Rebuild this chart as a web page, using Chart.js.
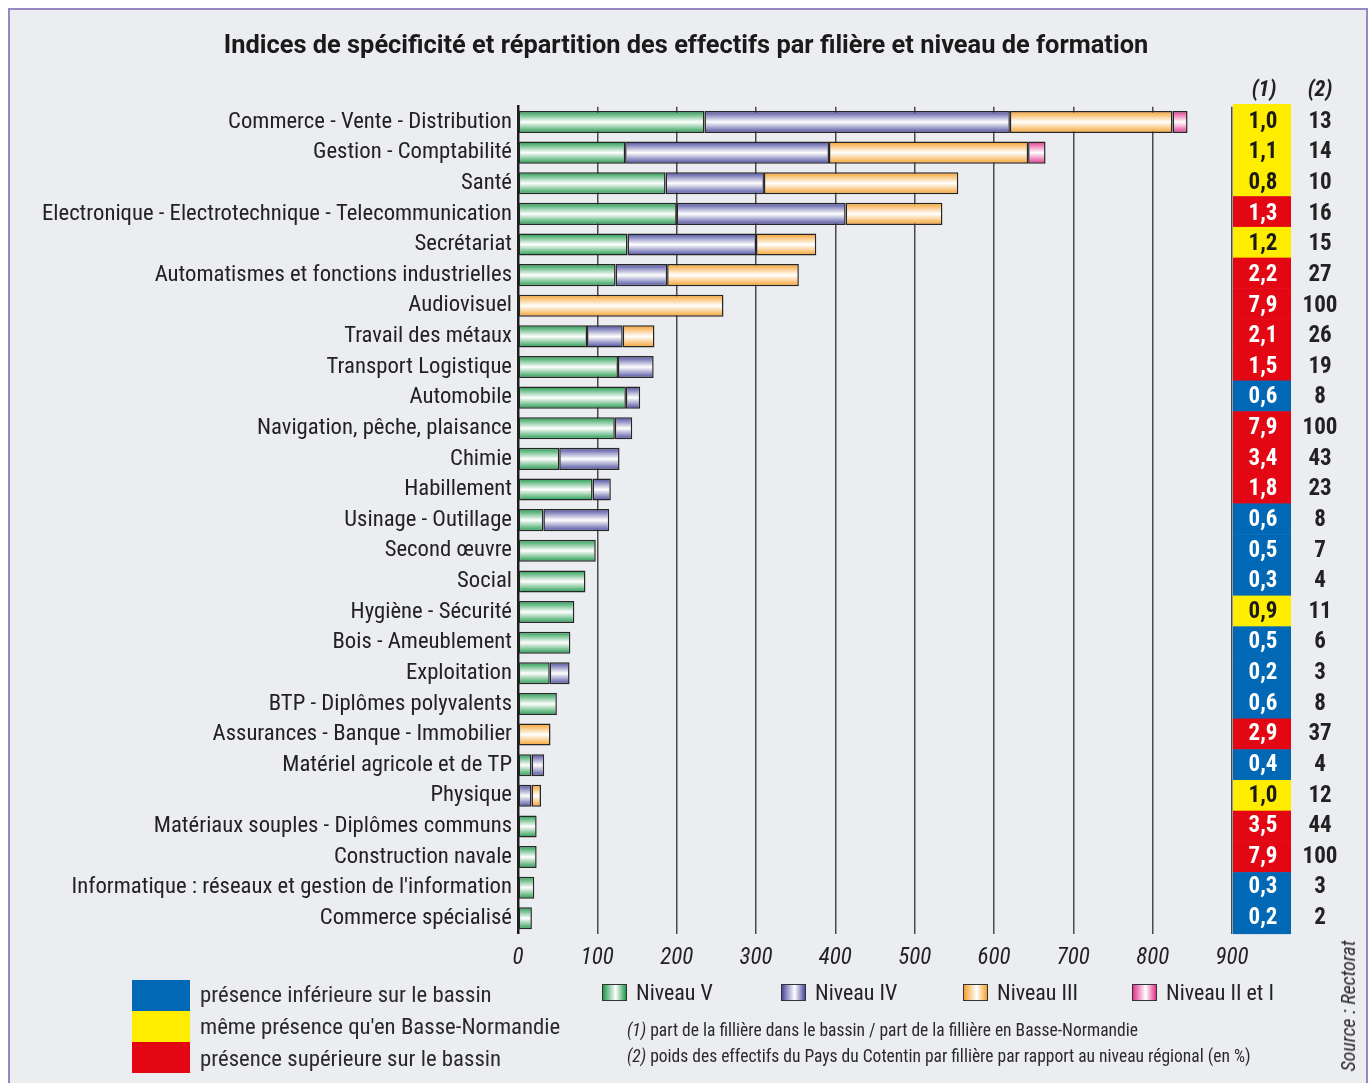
<!DOCTYPE html>
<html lang="fr">
<head>
<meta charset="utf-8">
<title>Indices de spécificité et répartition des effectifs</title>
<script src="https://cdn.jsdelivr.net/npm/chart.js@4.4.1/dist/chart.umd.min.js"></script>
<style>
  html, body { margin: 0; padding: 0; background: #ffffff; overflow: hidden; }
  body { width: 1372px; height: 1083px; position: relative; font-family: 'Roboto Condensed', 'Roboto', sans-serif; color: #222; }
  #frame { position: absolute; left: 8px; top: 8px; width: 1356px; height: 1100px; border: 2px solid #9788c4; border-bottom: none; background: #ecedf0; }
  #chart { position: absolute; left: 0; top: 0; }
  .title { position: absolute; left: 0; width: 1372px; top: 29px; text-align: center; font-family: 'Roboto', sans-serif; font-weight: 700; font-size: 25.4px; color: #1a1a1a; }
  .lvl { position: absolute; top: 980px; font-size: 22px; line-height: 26px; white-space: nowrap; }
  .lvl i { display: inline-block; width: 23px; height: 15px; border: 1.5px solid #333; vertical-align: -1px; margin-right: 9px; }
  .pres { position: absolute; left: 132px; width: 58px; height: 31px; }
  .prestxt { position: absolute; left: 200px; font-size: 22.8px; line-height: 26px; white-space: nowrap; color: #2a2a2a; }
  .note { position: absolute; left: 627px; font-size: 17.5px; white-space: nowrap; color: #2a2a2a; }
  .source { position: absolute; left: 1348px; top: 1006px; transform: translate(-50%, -50%) rotate(-90deg); font-size: 20px; font-style: italic; white-space: nowrap; color: #2a2a2a; }
</style>
</head>
<body>
<div id="frame"></div>
<canvas id="chart" width="1372" height="1083"></canvas>

<div class="title">Indices de spécificité et répartition des effectifs par filière et niveau de formation</div>

<div class="pres" style="top:980px;background:#0068b4"></div>
<div class="pres" style="top:1011px;background:#ffed00"></div>
<div class="pres" style="top:1042px;background:#e30613"></div>
<div class="prestxt" style="top:982px">présence inférieure sur le bassin</div>
<div class="prestxt" style="top:1014px">même présence qu'en Basse-Normandie</div>
<div class="prestxt" style="top:1046px">présence supérieure sur le bassin</div>

<div class="lvl" style="left:602px"><i style="background:linear-gradient(90deg,#1f9a4b,#ffffff 55%,#1f9a4b)"></i>Niveau V</div>
<div class="lvl" style="left:781px"><i style="background:linear-gradient(90deg,#4a4a9e,#ffffff 55%,#4a4a9e)"></i>Niveau IV</div>
<div class="lvl" style="left:963px"><i style="background:linear-gradient(90deg,#f5a02a,#ffffff 55%,#f5a02a)"></i>Niveau III</div>
<div class="lvl" style="left:1132px"><i style="background:linear-gradient(90deg,#e2348c,#ffffff 55%,#e2348c)"></i>Niveau II et I</div>

<div class="note" style="top:1020px"><i>(1)</i> part de la fillière dans le bassin / part de la fillière en Basse-Normandie</div>
<div class="note" style="top:1046px"><i>(2)</i> poids des effectifs du Pays du Cotentin par fillière par rapport au niveau régional (en %)</div>

<div class="source">Source : Rectorat</div>

<script>
// Filières, de la plus fournie à la moins fournie
const categories = [
  'Commerce - Vente - Distribution',
  'Gestion - Comptabilité',
  'Santé',
  'Electronique - Electrotechnique - Telecommunication',
  'Secrétariat',
  'Automatismes et fonctions industrielles',
  'Audiovisuel',
  'Travail des métaux',
  'Transport Logistique',
  'Automobile',
  'Navigation, pêche, plaisance',
  'Chimie',
  'Habillement',
  'Usinage - Outillage',
  'Second œuvre',
  'Social',
  'Hygiène - Sécurité',
  'Bois - Ameublement',
  'Exploitation',
  'BTP - Diplômes polyvalents',
  'Assurances - Banque - Immobilier',
  'Matériel agricole et de TP',
  'Physique',
  'Matériaux souples - Diplômes communs',
  'Construction navale',
  "Informatique : réseaux et gestion de l'information",
  'Commerce spécialisé'
];

// Effectifs par niveau de formation (null = pas d'effectif)
const niveauV   = [235, 135, 186, 200, 138, 123, null, 87, 126, 136, 122, 52, 94, 32, 98, 85, 71, 66, 40, 49, null, 17, null, 23.5, 23.5, 20.5, 17.5];
const niveauIV  = [385, 257, 124, 213, 162, 65, null, 45, 45, 18, 22, 76, 23, 83, null, null, null, null, 25, null, null, 16, 17, null, null, null, null];
const niveauIII = [205, 251, 245, 122, 76, 166, 259, 40, null, null, null, null, null, null, null, null, null, null, null, null, 41, null, 12, null, null, null, null];
const niveauII  = [19, 22, null, null, null, null, null, null, null, null, null, null, null, null, null, null, null, null, null, null, null, null, null, null, null, null, null];

// (1) indice de spécificité et sa classe, (2) poids régional en %
const indice = [1.0, 1.1, 0.8, 1.3, 1.2, 2.2, 7.9, 2.1, 1.5, 0.6, 7.9, 3.4, 1.8, 0.6, 0.5, 0.3, 0.9, 0.5, 0.2, 0.6, 2.9, 0.4, 1.0, 3.5, 7.9, 0.3, 0.2];
const presence = ['meme', 'meme', 'meme', 'sup', 'meme', 'sup', 'sup', 'sup', 'sup', 'inf', 'sup', 'sup', 'sup', 'inf', 'inf', 'inf', 'meme', 'inf', 'inf', 'inf', 'sup', 'inf', 'meme', 'sup', 'sup', 'inf', 'inf'];
const poids = [13, 14, 10, 16, 15, 27, 100, 26, 19, 8, 100, 43, 23, 8, 7, 4, 11, 6, 3, 8, 37, 4, 12, 44, 100, 3, 2];

const xTicks = [0, 100, 200, 300, 400, 500, 600, 700, 800, 900];

const FONT = "'Roboto Condensed', 'Roboto', sans-serif";
const BAR_FRACTION = 0.72;
const presenceColors = { inf: '#0068b4', meme: '#ffed00', sup: '#e30613' };
const presenceText = { inf: '#ffffff', meme: '#1a1a1a', sup: '#ffffff' };

// Vertical shading of each bar: coloured edges, white core
function shaded(color) {
  return (ctx) => {
    if (ctx.type !== 'data') return color;
    const chart = ctx.chart;
    const ys = chart.scales.y;
    if (!ys || !chart.chartArea) return color;
    const yc = ys.getPixelForValue(ctx.dataIndex);
    const h = (chart.chartArea.bottom - chart.chartArea.top) / categories.length * BAR_FRACTION;
    const g = chart.ctx.createLinearGradient(0, yc - h / 2, 0, yc + h / 2);
    g.addColorStop(0, color);
    g.addColorStop(0.5, '#ffffff');
    g.addColorStop(1, color);
    return g;
  };
}

function dataset(label, data, color) {
  return {
    label, data,
    backgroundColor: shaded(color),
    borderColor: '#262626',
    borderWidth: 1.5,
    borderSkipped: false,
    barPercentage: BAR_FRACTION,
    categoryPercentage: 1
  };
}

// Right-hand columns: specificity index cells and regional weight
const sideColumns = {
  id: 'sideColumns',
  afterDraw(chart) {
    const { ctx, chartArea } = chart;
    const ys = chart.scales.y;
    const colTop = 104;
    const rowH = (chartArea.bottom - colTop) / categories.length;
    const cellL = chartArea.right + 1, cellW = 58;
    const col2X = 1320;
    ctx.save();
    ctx.textAlign = 'center';
    ctx.textBaseline = 'middle';
    ctx.fillStyle = '#222';
    ctx.font = 'italic 700 22px ' + FONT;
    ctx.fillText('(1)', cellL + cellW / 2 + 2, 90);
    ctx.fillText('(2)', col2X, 90);
    categories.forEach((c, i) => {
      const top = colTop + i * rowH;
      ctx.fillStyle = presenceColors[presence[i]];
      ctx.fillRect(cellL, top, cellW, rowH + 0.5);
    });
    ctx.font = '700 23px ' + FONT;
    categories.forEach((c, i) => {
      const yc = ys.getPixelForValue(i);
      ctx.fillStyle = presenceText[presence[i]];
      ctx.fillText(indice[i].toFixed(1).replace('.', ','), cellL + cellW / 2 + 1, yc);
      ctx.fillStyle = '#222';
      ctx.fillText(String(poids[i]), col2X, yc);
    });
    ctx.restore();
  }
};

new Chart(document.getElementById('chart'), {
  type: 'bar',
  data: {
    labels: categories,
    datasets: [
      dataset('Niveau V', niveauV, '#1f9a4b'),
      dataset('Niveau IV', niveauIV, '#4a4a9e'),
      dataset('Niveau III', niveauIII, '#f5a02a'),
      dataset('Niveau II et I', niveauII, '#e2348c')
    ]
  },
  options: {
    indexAxis: 'y',
    responsive: false,
    animation: false,
    events: [],
    layout: { padding: { left: 0, right: 140, top: 106.7, bottom: 99.4 } },
    plugins: { legend: { display: false }, tooltip: { enabled: false } },
    scales: {
      x: {
        stacked: true,
        min: 0, max: 900,
        afterBuildTicks: (s) => { s.ticks = xTicks.map(v => ({ value: v })); },
        afterFit: (s) => { s.height = 50; },
        grid: { color: '#4a4a4a', lineWidth: 1.5, drawTicks: false },
        border: { display: false },
        ticks: { padding: 11, color: '#222', font: { family: FONT, size: 23, style: 'italic' } }
      },
      y: {
        stacked: true,
        afterFit: (s) => { s.width = 518; },
        grid: { display: false, drawTicks: false },
        border: { display: true, color: '#1e1e1e', width: 2.5 },
        ticks: { autoSkip: false, padding: 6, color: '#222', font: { family: FONT, size: 22.7 } }
      }
    }
  },
  plugins: [sideColumns]
});
</script>
</body>
</html>
